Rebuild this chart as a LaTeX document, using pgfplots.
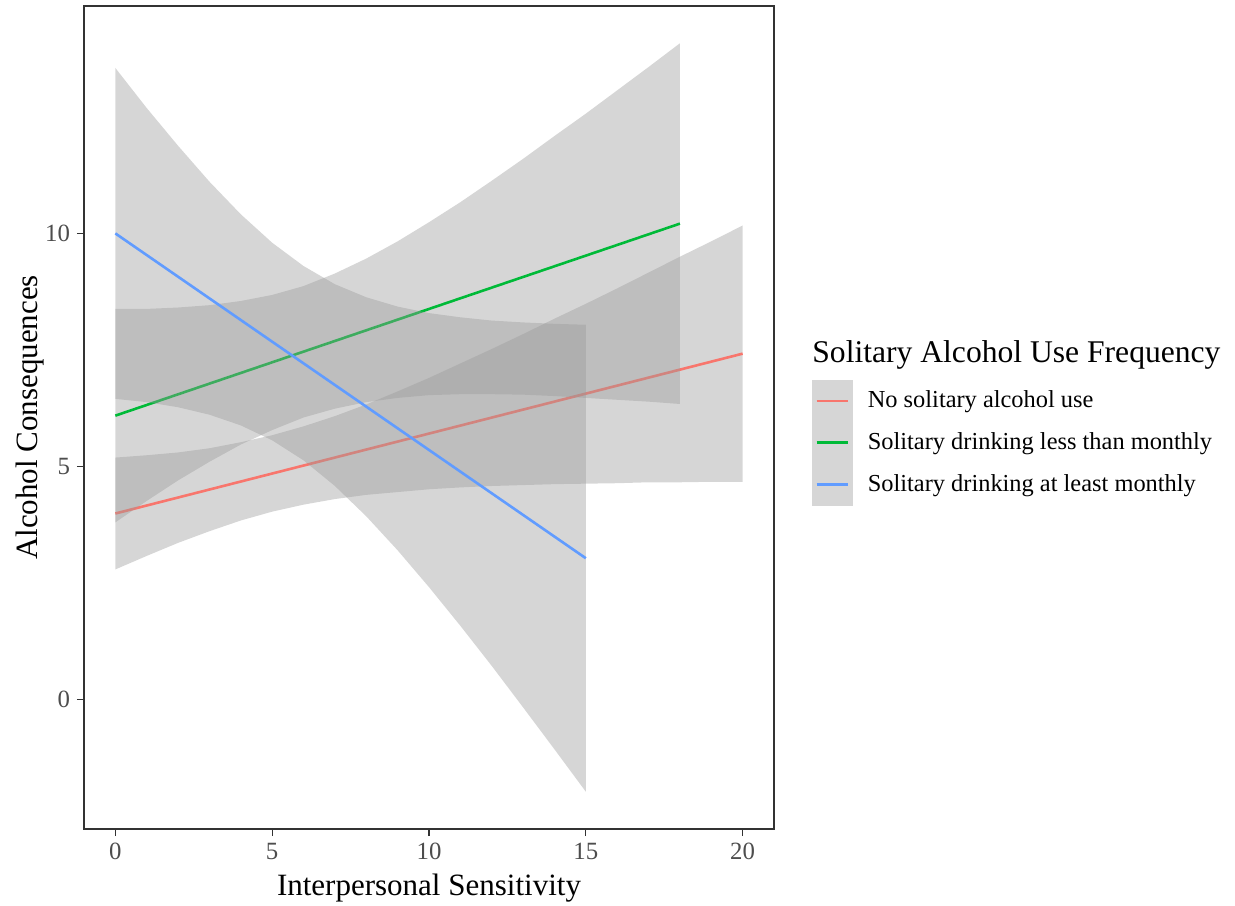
\documentclass[border=0pt]{standalone}
\usepackage{pgfplots}
\pgfplotsset{compat=1.18}
\usepackage{pgfplotstable}
\usepackage{fontspec}
\setmainfont{Liberation Serif}
\definecolor{cred}{HTML}{F8766D}
\definecolor{cgreen}{HTML}{00BA38}
\definecolor{cblue}{HTML}{619CFF}
\definecolor{band}{HTML}{999999}
\definecolor{keybg}{HTML}{D6D6D6}
\definecolor{frame}{HTML}{333333}
\definecolor{ticktext}{HTML}{4D4D4D}

% confidence bands: upper edge left->right, then lower edge right->left
\pgfplotstableread{
x y
0 5.19
1 5.24
2 5.30
3 5.39
4 5.52
5 5.67
6 5.86
7 6.08
8 6.33
9 6.61
10 6.90
11 7.21
12 7.52
13 7.84
14 8.17
15 8.49
16 8.82
17 9.16
18 9.50
19 9.83
20 10.17
20 4.67
19 4.67
18 4.66
17 4.66
16 4.64
15 4.63
14 4.62
13 4.60
12 4.58
11 4.55
10 4.51
9 4.45
8 4.39
7 4.30
6 4.18
5 4.03
4 3.84
3 3.61
2 3.36
1 3.08
0 2.79
}\redband
\pgfplotstableread{
x y
0 8.38
1 8.38
2 8.41
3 8.46
4 8.55
5 8.68
6 8.87
7 9.14
8 9.46
9 9.83
10 10.24
11 10.67
12 11.13
13 11.60
14 12.09
15 12.57
16 13.07
17 13.57
18 14.08
18 6.34
17 6.39
16 6.43
15 6.47
14 6.51
13 6.54
12 6.55
11 6.55
10 6.53
9 6.47
8 6.38
7 6.24
6 6.05
5 5.78
4 5.47
3 5.10
2 4.70
1 4.26
0 3.80
}\greenband
\pgfplotstableread{
x y
0 13.55
1 12.69
2 11.88
3 11.11
4 10.41
5 9.80
6 9.30
7 8.91
8 8.63
9 8.43
10 8.29
11 8.20
12 8.13
13 8.09
14 8.06
15 8.04
15 -1.98
14 -1.07
13 -0.17
12 0.72
11 1.58
10 2.41
9 3.20
8 3.93
7 4.58
6 5.13
5 5.56
4 5.88
3 6.11
2 6.27
1 6.38
0 6.45
}\blueband

\begin{document}
\begin{tikzpicture}[x=1pt,y=1pt]
\useasboundingbox (0,0) rectangle (617.5,452.5);
\begin{axis}[
  at={(42pt,38pt)}, anchor=south west,
  scale only axis, width=345pt, height=411.5pt,
  xmin=-1, xmax=21, ymin=-2.78, ymax=14.88,
  xtick={0,5,10,15,20}, ytick={0,5,10},
  tick pos=left, tick align=outside, major tick length=3.5pt,
  axis line style={draw=frame, line width=0.7pt},
  tick style={draw=frame, line width=0.6pt},
  /pgf/number format/assume math mode=true,
  ticklabel style={font=\fontsize{12.4}{14}\selectfont, text=ticktext},
  xlabel={Interpersonal Sensitivity},
  ylabel={Alcohol Consequences},
  label style={font=\fontsize{15.5}{18}\selectfont},
  xlabel style={at={(axis description cs:0.5,0)}, anchor=base, yshift=-33pt},
  ylabel style={at={(axis description cs:-0.0783,0.5)}, anchor=center},
  legend style={at={(axis description cs:1.0551,0.5456)}, anchor=north west,
    draw=none, fill=none, inner sep=0pt, outer sep=0pt, row sep=0pt,
    font=\fontsize{12.2}{14}\selectfont,
    nodes={inner sep=0pt, outer sep=0pt},
    /tikz/every odd column/.append style={column sep=7.6pt}},
  legend cell align=left,
  legend image code/.code={
    \fill[keybg] (0pt,-9.83pt) rectangle (19pt,9.83pt);
    \draw[#1, line width=1.4pt] (1.6pt,0pt) -- (17.4pt,0pt);
  },
]
\addplot[fill=band, fill opacity=0.4, draw=none, forget plot] table {\redband};
\addplot[cred, line width=1.3pt] coordinates {(0,3.99) (20,7.42)};
\addlegendentry{No solitary alcohol use}
\addplot[fill=band, fill opacity=0.4, draw=none, forget plot] table {\greenband};
\addplot[cgreen, line width=1.3pt] coordinates {(0,6.09) (18,10.21)};
\addlegendentry{Solitary drinking less than monthly}
\addplot[fill=band, fill opacity=0.4, draw=none, forget plot] table {\blueband};
\addplot[cblue, line width=1.3pt] coordinates {(0,10.0) (15,3.03)};
\addlegendentry{Solitary drinking at least monthly}
\end{axis}
\node[anchor=base west, inner sep=0pt, font=\fontsize{15.8}{18}\selectfont] at (406,271) {Solitary Alcohol Use Frequency};
\end{tikzpicture}
\end{document}
